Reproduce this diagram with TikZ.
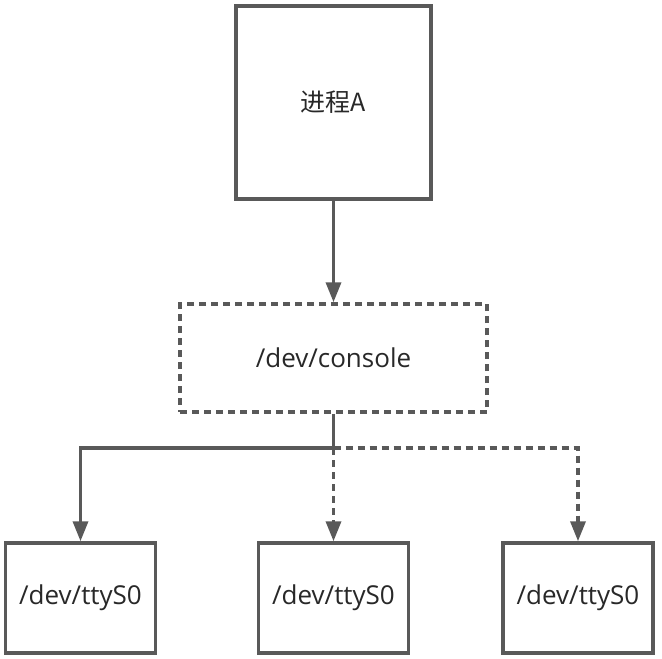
\documentclass[tikz,border=0pt]{standalone}
\usepackage{fontspec}
\setmainfont{Open Sans}
\newfontfamily\cjk{Noto Sans CJK SC}
\usetikzlibrary{arrows.meta}
\definecolor{ln}{RGB}{89,89,89}
\definecolor{tx}{RGB}{40,40,40}
\tikzset{
  box/.style={draw=ln, line width=3.5pt, text=tx, font=\fontsize{26}{30}\selectfont, inner sep=0pt},
  conn/.style={draw=ln, line width=3.5pt, -{Triangle[length=20pt,width=15pt]}},
  dashpat/.style={dash pattern=on 7pt off 5pt},
}
\begin{document}
\begin{tikzpicture}[x=1pt,y=-1pt]
\useasboundingbox (0,0) rectangle (662,659);
\node[box, minimum width=195pt, minimum height=193pt] (pa) at (333.5,102.5) {\cjk\fontsize{25}{30}\selectfont 进程A};
\node[box, dashpat, minimum width=307pt, minimum height=108pt] (con) at (333.5,358) {/dev/console};
\node[box, minimum width=150pt, minimum height=110pt] (t1) at (80.5,598) {/dev/ttyS0};
\node[box, minimum width=150pt, minimum height=110pt] (t2) at (333.5,598) {/dev/ttyS0};
\node[box, minimum width=150pt, minimum height=110pt] (t3) at (578,598) {/dev/ttyS0};
\coordinate (j) at (333.5,448);
\draw[conn] (pa.south) -- (con.north);
\draw[conn] (con.south) -- (j) -| (t1.north);
\draw[conn, dashpat] (j) -- (t2.north);
\draw[conn, dashpat] (j) -| (t3.north);
\end{tikzpicture}
\end{document}
